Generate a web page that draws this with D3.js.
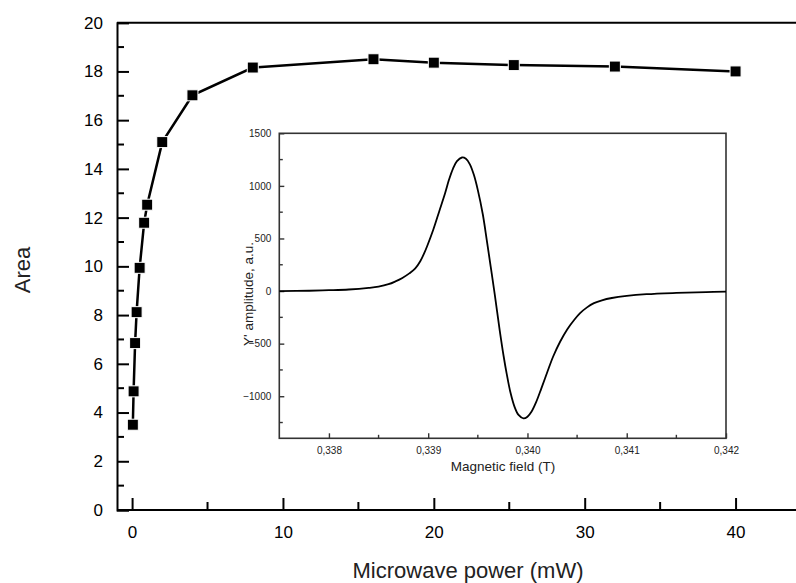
<!DOCTYPE html>
<html><head><meta charset="utf-8">
<script src="https://cdn.jsdelivr.net/npm/d3@7"></script>
<style>
html,body{margin:0;padding:0;background:#fff;}
svg{display:block;font-family:"Liberation Sans",Arial,sans-serif;}
</style></head>
<body><svg id="c" width="796" height="583"></svg>
<script>
// Main chart data
const power = [0.05, 0.1, 0.2, 0.3, 0.5, 0.8, 1.0, 2, 4, 8, 16, 20, 25.3, 32, 40];
const area  = [3.5, 4.87, 6.85, 8.12, 9.94, 11.79, 12.53, 15.1, 17.02, 18.16, 18.5, 18.36, 18.26, 18.2, 18.0];
const mainXTicks = [0, 10, 20, 30, 40];
const mainYTicks = [0, 2, 4, 6, 8, 10, 12, 14, 16, 18, 20];

// Inset data (EPR derivative spectrum)
const field = [0.3375, 0.3378, 0.3380, 0.3382, 0.3384, 0.3385, 0.3386, 0.33867, 0.33874, 0.33881,
  0.33887, 0.33892, 0.33896, 0.33899, 0.33905, 0.33911, 0.33917, 0.33921, 0.33925, 0.33929, 0.33934, 0.33938,
  0.33942, 0.33946, 0.33950, 0.33955, 0.33959, 0.33963, 0.33967, 0.33972, 0.33976, 0.33979,
  0.33983, 0.33987, 0.33991, 0.33996, 0.34000, 0.34004, 0.34009, 0.34014, 0.34020, 0.34026,
  0.34033, 0.34040, 0.34047, 0.34053, 0.34060, 0.34067, 0.34075, 0.34085, 0.3410, 0.3412,
  0.3415, 0.3418, 0.3420];
const amplitude = [0, 3, 8, 15, 30, 42, 65, 92, 125, 168,
  215, 283, 360, 428, 580, 755, 930, 1060, 1165, 1235, 1270, 1258,
  1205, 1105, 960, 730, 485, 230, -30, -371, -620, -783,
  -970, -1101, -1178, -1211, -1195, -1148, -1050, -925, -770, -620,
  -480, -365, -275, -210, -155, -115, -88, -66, -46, -30,
  -18, -10, -5];
const insetXTicks = [0.338, 0.339, 0.340, 0.341, 0.342];
const insetYTicks = [-1000, -500, 0, 500, 1000, 1500];

const svg = d3.select("#c");
const fmtComma = d => d.toFixed(3).replace(".", ",");

// ---------- Main chart ----------
const L = 117, R = 811, T = 22.7, B = 510;
const x = d3.scaleLinear().domain([-1, 45]).range([L, R]);
const y = d3.scaleLinear().domain([0, 20]).range([B, T]);

const gm = svg.append("g");
gm.append("line").attr("x1", L).attr("x2", 800).attr("y1", T).attr("y2", T)
  .attr("stroke", "#000").attr("stroke-width", 2);
const yMinor = d3.range(1, 20, 2);
const xMinor = [5, 15, 25, 35];
const ax = d3.axisLeft(y).tickValues(mainYTicks).tickSize(-12).tickPadding(14).tickFormat(d3.format("d"));
const gy = gm.append("g").attr("transform", `translate(${L},0)`).call(ax);
gy.select(".domain").attr("stroke-width", 2);
gy.selectAll(".tick line").attr("stroke-width", 2);
gy.selectAll(".tick text").attr("font-size", 17).attr("fill", "#000").attr("font-family", "Liberation Sans, Arial, sans-serif");
gy.selectAll(".minor").data(yMinor).enter().append("line")
  .attr("x1", 0).attr("x2", 7).attr("y1", d => y(d)).attr("y2", d => y(d))
  .attr("stroke", "#000").attr("stroke-width", 2);
const bx = d3.axisBottom(x).tickValues(mainXTicks).tickSize(-12).tickPadding(16).tickFormat(d3.format("d"));
const gx = gm.append("g").attr("transform", `translate(0,${B})`).call(bx);
gx.select(".domain").attr("stroke-width", 2).attr("d", `M${L},0H${R}`);
gx.selectAll(".tick line").attr("stroke-width", 2);
gx.selectAll(".tick text").attr("font-size", 17).attr("fill", "#000").attr("font-family", "Liberation Sans, Arial, sans-serif");
gx.selectAll(".minor").data(xMinor).enter().append("line")
  .attr("y1", 0).attr("y2", -8).attr("x1", d => x(d)).attr("x2", d => x(d))
  .attr("stroke", "#000").attr("stroke-width", 2);

svg.append("text").attr("x", 468).attr("y", 578).attr("text-anchor", "middle")
  .attr("font-size", 22).attr("fill", "#222").text("Microwave power (mW)");
svg.append("text").attr("transform", "translate(30,270) rotate(-90)").attr("text-anchor", "middle")
  .attr("font-size", 22).attr("fill", "#222").text("Area");

const pts = power.map((p, i) => [p, area[i]]);
gm.append("path").datum(pts)
  .attr("d", d3.line().x(d => x(d[0])).y(d => y(d[1])))
  .attr("fill", "none").attr("stroke", "#000").attr("stroke-width", 2.5);
gm.selectAll(".sq").data(pts).enter().append("rect")
  .attr("x", d => x(d[0]) - 5.5).attr("y", d => y(d[1]) - 5.5)
  .attr("width", 11).attr("height", 11).attr("fill", "#000")
  .attr("stroke", "#fff").attr("stroke-width", 1);

// ---------- Inset ----------
const iL = 279.3, iR = 726, iT = 133.3, iB = 438.3;
const xi = d3.scaleLinear().domain([0.3375, 0.342]).range([iL, iR]);
const yi = d3.scaleLinear().domain([-1400, 1500]).range([iB, iT]);
const gi = svg.append("g");
gi.append("rect").attr("x", iL).attr("y", iT).attr("width", iR - iL).attr("height", iB - iT)
  .attr("fill", "#fff").attr("stroke", "#333").attr("stroke-width", 1.6);
const iyMinor = [-1250, -750, -250, 250, 750, 1250];
const ixMinor = [0.3385, 0.3395, 0.3405, 0.3415];
const ay = d3.axisLeft(yi).tickValues(insetYTicks).tickSize(-5).tickPadding(8).tickFormat(d3.format("d"));
const giy = gi.append("g").attr("transform", `translate(${iL},0)`).call(ay);
giy.select(".domain").remove();
giy.selectAll(".tick line").attr("stroke", "#333").attr("stroke-width", 1.4);
giy.selectAll(".tick text").attr("font-size", 10).attr("fill", "#222").attr("font-family", "Liberation Sans, Arial, sans-serif");
giy.selectAll(".minor").data(iyMinor).enter().append("line")
  .attr("x1", 0).attr("x2", 3.5).attr("y1", d => yi(d)).attr("y2", d => yi(d))
  .attr("stroke", "#333").attr("stroke-width", 1.4);
const axi = d3.axisBottom(xi).tickValues(insetXTicks).tickSize(-5).tickPadding(9).tickFormat(fmtComma);
const gix = gi.append("g").attr("transform", `translate(0,${iB})`).call(axi);
gix.select(".domain").remove();
gix.selectAll(".tick line").attr("stroke", "#333").attr("stroke-width", 1.4);
gix.selectAll(".tick text").attr("font-size", 10).attr("fill", "#222").attr("font-family", "Liberation Sans, Arial, sans-serif");
gix.selectAll(".minor").data(ixMinor).enter().append("line")
  .attr("y1", 0).attr("y2", -3.5).attr("x1", d => xi(d)).attr("x2", d => xi(d))
  .attr("stroke", "#333").attr("stroke-width", 1.4);

gi.append("text").attr("x", 503).attr("y", 471).attr("text-anchor", "middle")
  .attr("font-size", 13.5).attr("fill", "#222").text("Magnetic field (T)");
gi.append("text").attr("transform", "translate(253,294) rotate(-90)").attr("text-anchor", "middle")
  .attr("font-size", 13.5).attr("fill", "#222").text("Y' amplitude, a.u.");

const spec = field.map((f, i) => [f, amplitude[i]]);
gi.append("path").datum(spec)
  .attr("d", d3.line().x(d => xi(d[0])).y(d => yi(d[1])).curve(d3.curveCatmullRom.alpha(0.5)))
  .attr("fill", "none").attr("stroke", "#000").attr("stroke-width", 1.8);
</script></body></html>
